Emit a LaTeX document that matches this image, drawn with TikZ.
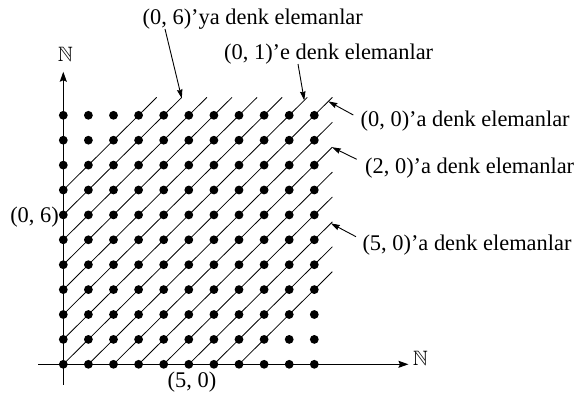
\documentclass[tikz,border=0pt]{standalone}
\usepackage{amssymb}
\usepackage{fontspec}
\setmainfont{Liberation Serif}
\usetikzlibrary{arrows.meta}
\begin{document}
\begin{tikzpicture}[x=1pt,y=-1pt,
  dot/.style={circle,fill=black,inner sep=0pt,minimum size=8.8pt},
  eqline/.style={line width=0.8pt},
  axis/.style={line width=1.1pt,-{Stealth[length=10pt,width=7pt,inset=1.5pt]}},
  pointer/.style={line width=0.9pt,-{Stealth[length=9pt,width=5.5pt,inset=1pt]}},
  lbl/.style={font=\fontsize{22.4}{26}\selectfont,inner sep=0pt},
  setlbl/.style={font=\fontsize{20.8}{25}\selectfont,inner sep=0pt},
]
\useasboundingbox (0,0) rectangle (580,401);
\begin{scope}[shift={(63.3,364.3)},x=25.1pt,y=24.9pt]
  % grid points
  \foreach \i in {0,...,10}{\foreach \j in {0,...,10}{\coordinate (p-\i-\j) at (\i,\j);}}
  % line ends
  \foreach \d in {0,...,7}{\coordinate (r\d) at (10.72,10.72-\d);}
  \foreach \d in {1,...,7}{\coordinate (t\d) at (10.72-\d,10.72);}
  % axes
  \coordinate (xs) at (-1,0);
  \coordinate (xe) at (13.75,0);
  \coordinate (ys) at (0,-0.83);
  \coordinate (ye) at (0,11.75);
  % pointer tips
  \coordinate (tip06) at (4.72,10.68);
  \coordinate (tip01) at (9.6,10.6);
  \coordinate (tip00) at (10.56,10.56);
  \coordinate (tip20) at (10.7,8.72);
  \coordinate (tip50) at (10.66,5.66);
\end{scope}
% equivalence lines
\foreach \d in {0,...,7}{\draw[eqline] (p-\d-0) -- (r\d);}
\foreach \d in {1,...,7}{\draw[eqline] (p-0-\d) -- (t\d);}
% axes
\draw[axis] (xs) -- (xe);
\draw[axis] (ys) -- (ye);
\node[setlbl] (nx) at (420.5,358) {$\mathbb{N}$};
\node[setlbl] (ny) at (65.3,54.7) {$\mathbb{N}$};
% dots
\foreach \i in {0,...,10}{\foreach \j in {0,...,10}{\node[dot] (d-\i-\j) at (p-\i-\j) {};}}
% labels
\node[lbl,anchor=base west] (l06) at (142.5,25) {(0, 6)'ya denk elemanlar};
\node[lbl,anchor=base west] (l01) at (224,60) {(0, 1)'e denk elemanlar};
\node[lbl,anchor=base west] (l00) at (360.5,126.5) {(0, 0)'a denk elemanlar};
\node[lbl,anchor=base west] (l20) at (365,173.3) {(2, 0)'a denk elemanlar};
\node[lbl,anchor=base west] (l50) at (362.3,250) {(5, 0)'a denk elemanlar};
\node[lbl,anchor=base east] (l6) at (59,222.5) {(0, 6)};
\node[lbl,anchor=base west] (l5) at (167.5,387) {(5, 0)};
% pointer starts
\coordinate (s06) at (165,29);
\coordinate (s01) at (298,64);
\coordinate (s00) at (353.3,115);
\coordinate (s20) at (356.7,159.3);
\coordinate (s50) at (356,236.7);
\draw[pointer] (s06) -- (tip06);
\draw[pointer] (s01) -- (tip01);
\draw[pointer] (s00) -- (tip00);
\draw[pointer] (s20) -- (tip20);
\draw[pointer] (s50) -- (tip50);
\end{tikzpicture}
\end{document}
